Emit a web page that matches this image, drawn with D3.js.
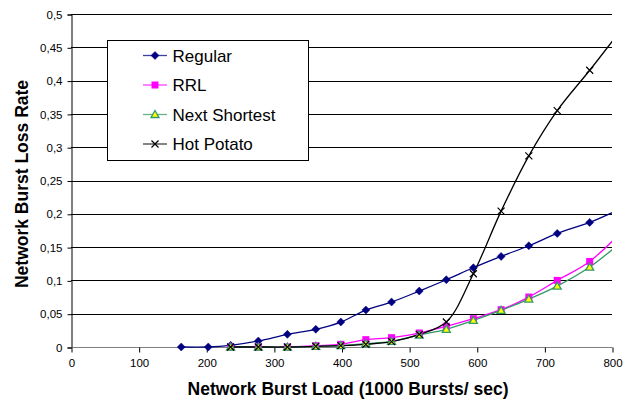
<!DOCTYPE html>
<html>
<head>
<meta charset="utf-8">
<script src="https://cdn.jsdelivr.net/npm/d3@7"></script>
<style>
  html, body { margin: 0; padding: 0; background: #fff; }
  svg { display: block; font-family: "Liberation Sans", Arial, sans-serif; }
</style>
</head>
<body>
<svg id="chart" width="628" height="403"></svg>
<script>
// Offered load (1000 bursts/sec) at each simulation point
const loads = [163, 203, 236, 277, 320, 362, 399, 436, 474, 515, 555, 595, 636, 677, 719, 767, 820];

// Burst loss rate per routing scheme (null = not simulated at that load)
const regular      = [0, 0, 0.0025, 0.009, 0.019, 0.0265, 0.0375, 0.0555, 0.0675, 0.084, 0.101, 0.119, 0.136, 0.152, 0.1705, 0.187, 0.211];
const rrl          = [null, null, 0, 0, 0, 0.002, 0.004, 0.011, 0.014, 0.021, 0.031, 0.0425, 0.056, 0.075, 0.100, 0.1285, 0.179];
const nextShortest = [null, null, 0, 0, 0, 0.001, 0.002, 0.005, 0.0085, 0.018, 0.0265, 0.040, 0.055, 0.072, 0.0915, 0.12, 0.163];
const hotPotato    = [null, null, 0, 0, 0, 0.001, 0.002, 0.004, 0.008, 0.019, 0.0375, 0.110, 0.204, 0.287, 0.355, 0.4155, 0.485];

const seriesNames = ["Regular", "RRL", "Next Shortest", "Hot Potato"];

// Axis ticks
const xTicks = [0, 100, 200, 300, 400, 500, 600, 700, 800];
const yTicks = [0, 0.05, 0.1, 0.15, 0.2, 0.25, 0.3, 0.35, 0.4, 0.45, 0.5];
const yTickLabels = ["0", "0,05", "0,1", "0,15", "0,2", "0,25", "0,3", "0,35", "0,4", "0,45", "0,5"];

const xTitle = "Network Burst Load (1000 Bursts/ sec)";
const yTitle = "Network Burst Loss Rate";

const plot = { left: 71, right: 612, top: 14, bottom: 347 };

const x = d3.scaleLinear().domain([0, 800]).range([plot.left, plot.right]);
const y = d3.scaleLinear().domain([0, 0.5]).range([plot.bottom, plot.top]);

const svg = d3.select("#chart");

// Horizontal gridlines
svg.append("g")
  .selectAll("line")
  .data(yTicks.filter(v => v > 0))
  .join("line")
  .attr("x1", plot.left).attr("x2", plot.right)
  .attr("y1", d => Math.round(y(d)) + 0.5).attr("y2", d => Math.round(y(d)) + 0.5)
  .attr("stroke", "#000").attr("stroke-width", 1);

// Y axis
const yAxis = d3.axisLeft(y)
  .tickValues(yTicks)
  .tickSize(4)
  .tickPadding(5)
  .tickFormat((d, i) => yTickLabels[i]);
const gy = svg.append("g")
  .attr("transform", `translate(${plot.left + 0.5},0.5)`)
  .call(yAxis);
gy.select(".domain").attr("stroke", "#000");
gy.selectAll(".tick line").attr("stroke", "#000");
gy.selectAll(".tick text")
  .attr("font-size", "11.5px")
  .attr("font-family", "Liberation Sans, Arial, sans-serif")
  .attr("fill", "#000");

// X axis
const xAxis = d3.axisBottom(x)
  .tickValues(xTicks)
  .tickSize(5)
  .tickPadding(6)
  .tickFormat(d3.format("d"));
const gx = svg.append("g")
  .attr("transform", `translate(0.5,${plot.bottom + 0.5})`)
  .call(xAxis);
gx.select(".domain").attr("stroke", "#808080").attr("d", `M${plot.left},0H${plot.right}`);
gx.selectAll(".tick line").attr("stroke", "#000");
gx.selectAll(".tick text")
  .attr("font-size", "11.5px")
  .attr("font-family", "Liberation Sans, Arial, sans-serif")
  .attr("fill", "#000");

// Axis titles
svg.append("text")
  .attr("x", 348)
  .attr("y", 395)
  .attr("text-anchor", "middle")
  .attr("font-weight", "bold")
  .attr("font-size", "17.5px")
  .text(xTitle);

svg.append("text")
  .attr("transform", `translate(28,184) rotate(-90)`)
  .attr("text-anchor", "middle")
  .attr("font-weight", "bold")
  .attr("font-size", "17.5px")
  .text(yTitle);

// Clip lines to the plot area
svg.append("clipPath").attr("id", "plot-clip")
  .append("rect")
  .attr("x", plot.left).attr("y", plot.top - 2)
  .attr("width", plot.right - plot.left).attr("height", plot.bottom - plot.top + 4);

const series = [
  { name: seriesNames[0], values: regular,      color: "#000080", marker: "diamond" },
  { name: seriesNames[1], values: rrl,          color: "#FF00FF", marker: "square" },
  { name: seriesNames[2], values: nextShortest, color: "#339966", marker: "triangle" },
  { name: seriesNames[3], values: hotPotato,    color: "#000000", marker: "cross" }
];

const line = d3.line()
  .defined(d => d.v !== null)
  .x(d => x(d.load))
  .y(d => y(d.v))
  .curve(d3.curveCatmullRom.alpha(0.5));

function drawMarker(g, type, cx, cy, color) {
  if (type === "diamond") {
    g.append("path")
      .attr("d", `M${cx},${cy - 4}L${cx + 4},${cy}L${cx},${cy + 4}L${cx - 4},${cy}Z`)
      .attr("fill", color).attr("stroke", color).attr("stroke-width", 0.5);
  } else if (type === "square") {
    g.append("rect")
      .attr("x", cx - 3.5).attr("y", cy - 3.5).attr("width", 7).attr("height", 7)
      .attr("fill", color);
  } else if (type === "triangle") {
    g.append("path")
      .attr("d", `M${cx},${cy - 4}L${cx + 4},${cy + 3}L${cx - 4},${cy + 3}Z`)
      .attr("fill", "#FFFF00").attr("stroke", color).attr("stroke-width", 1.3);
  } else if (type === "cross") {
    g.append("path")
      .attr("d", `M${cx - 3.5},${cy - 3.5}L${cx + 3.5},${cy + 3.5}M${cx + 3.5},${cy - 3.5}L${cx - 3.5},${cy + 3.5}`)
      .attr("stroke", color).attr("stroke-width", 1.2).attr("fill", "none");
  }
}

const linesG = svg.append("g").attr("clip-path", "url(#plot-clip)");
const markersG = svg.append("g");

series.forEach(s => {
  const pts = loads.map((load, i) => ({ load, v: s.values[i] })).filter(d => d.v !== null);
  linesG.append("path")
    .datum(pts)
    .attr("d", line)
    .attr("fill", "none")
    .attr("stroke", s.color)
    .attr("stroke-width", 1.3);
  pts.filter(d => d.load <= 800).forEach(d => {
    drawMarker(markersG, s.marker, x(d.load), y(d.v), s.color);
  });
});

// Legend
const legend = svg.append("g");
legend.append("rect")
  .attr("x", 107.5).attr("y", 40.5)
  .attr("width", 201).attr("height", 120)
  .attr("fill", "#fff").attr("stroke", "#000").attr("stroke-width", 1);

const legendRows = [55.5, 85, 114.5, 144];
series.forEach((s, i) => {
  const cy = legendRows[i];
  legend.append("line")
    .attr("x1", 143).attr("x2", 167)
    .attr("y1", cy).attr("y2", cy)
    .attr("stroke", s.color).attr("stroke-width", 1.3).attr("stroke-opacity", 0.75);
  drawMarker(legend, s.marker, 155, cy, s.color);
  legend.append("text")
    .attr("x", 172.5).attr("y", cy + 6)
    .attr("font-size", "17px")
    .attr("fill", "#000")
    .text(s.name);
});
</script>
</body>
</html>
